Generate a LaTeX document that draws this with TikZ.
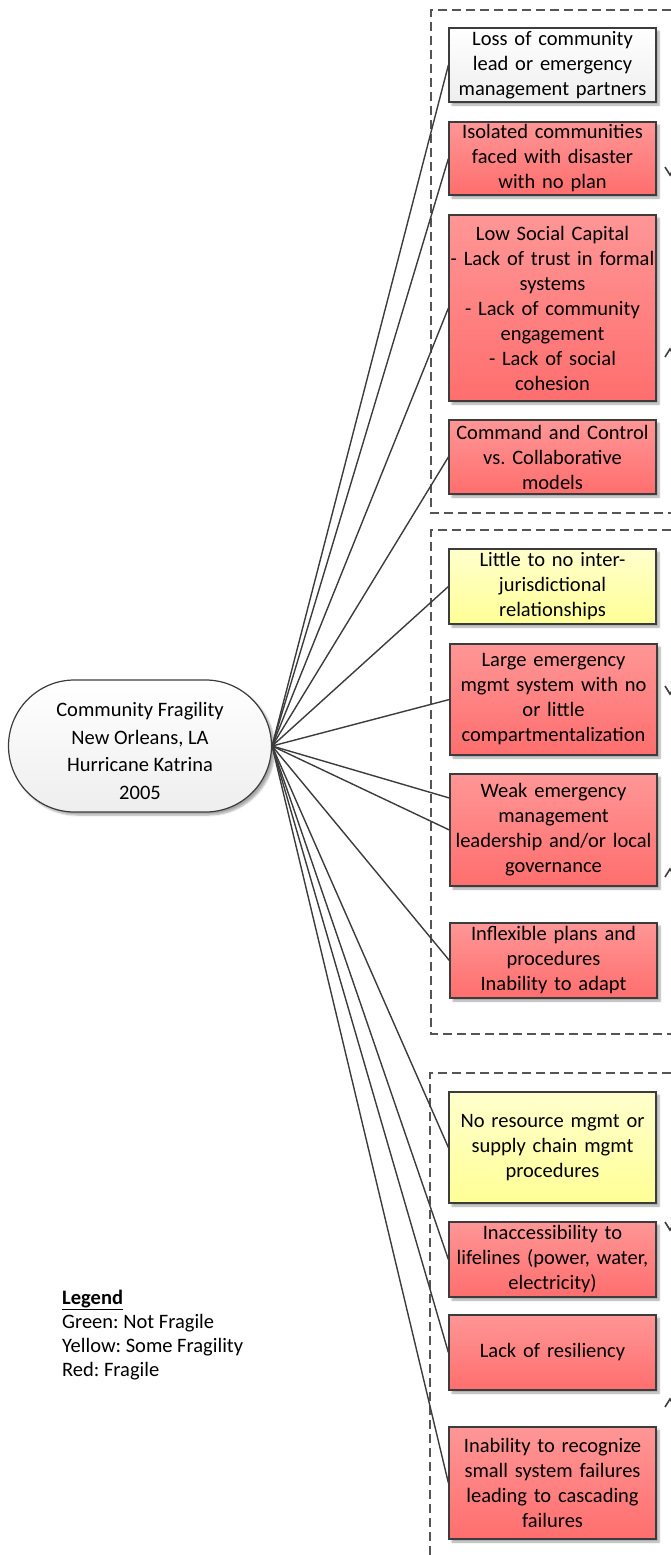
\documentclass[tikz,border=0pt]{standalone}
\usepackage{fontspec}
\setmainfont{Carlito}
\usetikzlibrary{shapes.misc,shadows.blur}
\frenchspacing

\definecolor{edge}{RGB}{60,60,60}
\definecolor{dashgrey}{RGB}{85,85,85}
\definecolor{redtop}{RGB}{255,150,150}
\definecolor{redbot}{RGB}{255,110,110}
\definecolor{yeltop}{RGB}{255,255,205}
\definecolor{yelbot}{RGB}{255,255,150}
\definecolor{greytop}{RGB}{255,255,255}
\definecolor{greybot}{RGB}{238,238,238}

\tikzset{
  boxtext/.style={font=\fontsize{20.5pt}{25pt}\selectfont},
  card/.style={draw=edge, line width=1.2pt, rectangle, minimum width=207pt,
    text width=206pt, align=center, inner sep=0pt, boxtext,
    blur shadow={shadow xshift=3pt, shadow yshift=-3pt, shadow blur steps=6,
      shadow opacity=35}},
  fragile/.style={card, top color=redtop, bottom color=redbot},
  somewhat/.style={card, top color=yeltop, bottom color=yelbot},
  neutral/.style={card, top color=greytop, bottom color=greybot},
  group/.style={draw=dashgrey, line width=1.1pt, dash pattern=on 9pt off 5pt},
  spoke/.style={draw=edge, line width=1.4pt},
  tipmark/.style={draw=edge, line width=1.6pt},
}

\begin{document}
\begin{tikzpicture}[x=1pt, y=-1pt]
\useasboundingbox (0,0) rectangle (671,1555);

% dashed group frames (open to the right / bottom)
\draw[group] (671,10) -- (431,10) -- (431,513) -- (671,513);
\draw[group] (671,530) -- (431,530) -- (431,1034) -- (671,1034);
\draw[group] (671,1073) -- (430,1073) -- (430,1555);

% central hub
\node[rounded rectangle, draw=edge, line width=1.2pt, minimum width=263pt,
  minimum height=132pt, top color=white, bottom color=greybot, inner sep=0pt,
  blur shadow={shadow xshift=3pt, shadow yshift=-3pt, shadow blur steps=6, shadow opacity=35}]
  (hub) at (140,746) {};
\node[align=center, inner sep=0pt, font=\fontsize{20.5pt}{27.7pt}\selectfont]
  (hubtext) at (140,751) {Community Fragility\\New Orleans, LA\\Hurricane Katrina\\2005};

% factor cards
\node[neutral, minimum height=74pt] (b1) at (552.5,65)
  {Loss of community\\lead or emergency\\management partners};
\node[fragile, minimum height=73pt] (b2) at (552.5,158.5)
  {Isolated communities\\faced with disaster\\with no plan};
\node[fragile, minimum height=186pt] (b3) at (552.5,308)
  {Low Social Capital\\- Lack of trust in formal\\systems\\- Lack of community\\engagement\\- Lack of social\\cohesion};
\node[fragile, minimum height=74pt] (b4) at (552.5,457)
  {Command and Control\\vs. Collaborative\\models};

\node[somewhat, minimum height=75pt] (b5) at (552.5,586.5)
  {Little to no inter-\\jurisdictional\\relationships};
\node[fragile, minimum height=111pt] (b6) at (553.5,699.5)
  {Large emergency\\mgmt system with no\\or little\\compartmentalization};
\node[fragile, minimum height=112pt] (b7) at (553.5,830)
  {Weak emergency\\management\\leadership and/or local\\governance};
\node[fragile, minimum height=75pt] (b8) at (553.5,960.5)
  {Inflexible plans and\\procedures\\Inability to adapt};

\node[somewhat, minimum height=111pt] (b9) at (552.5,1147.5)
  {No resource mgmt or\\supply chain mgmt\\procedures};
\node[fragile, minimum height=75pt] (b10) at (552.5,1259.5)
  {Inaccessibility to\\lifelines (power, water,\\electricity)};
\node[fragile, minimum height=75pt] (b11) at (552.5,1352.5)
  {Lack of resiliency};
\node[fragile, minimum height=112pt] (b12) at (552.5,1483)
  {Inability to recognize\\small system failures\\leading to cascading\\failures};

% spokes from the hub
\foreach \b in {b1,b2,b3,b4,b5,b6,b7,b8,b9,b10,b11,b12}
  \draw[spoke] (hub.east) -- (\b.west);
\draw[spoke] (hub.east) -- ([yshift=32pt]b7.west);

% legend
\node[anchor=north west, align=left, inner sep=0pt,
  font=\fontsize{20.5pt}{24pt}\selectfont] (legend) at (62,1290)
  {\underline{\textbf{Legend}}\\Green: Not Fragile\\Yellow: Some Fragility\\Red: Fragile};

% arrow tips cut by the right margin
\foreach \yd/\yu in {167/357, 686/877, 1222/1407} {
  \draw[tipmark] (665,\yd) -- (670,\yd+8) -- (675,\yd);
  \draw[tipmark] (665,\yu) -- (670,\yu-8) -- (675,\yu);
}
\end{tikzpicture}
\end{document}
